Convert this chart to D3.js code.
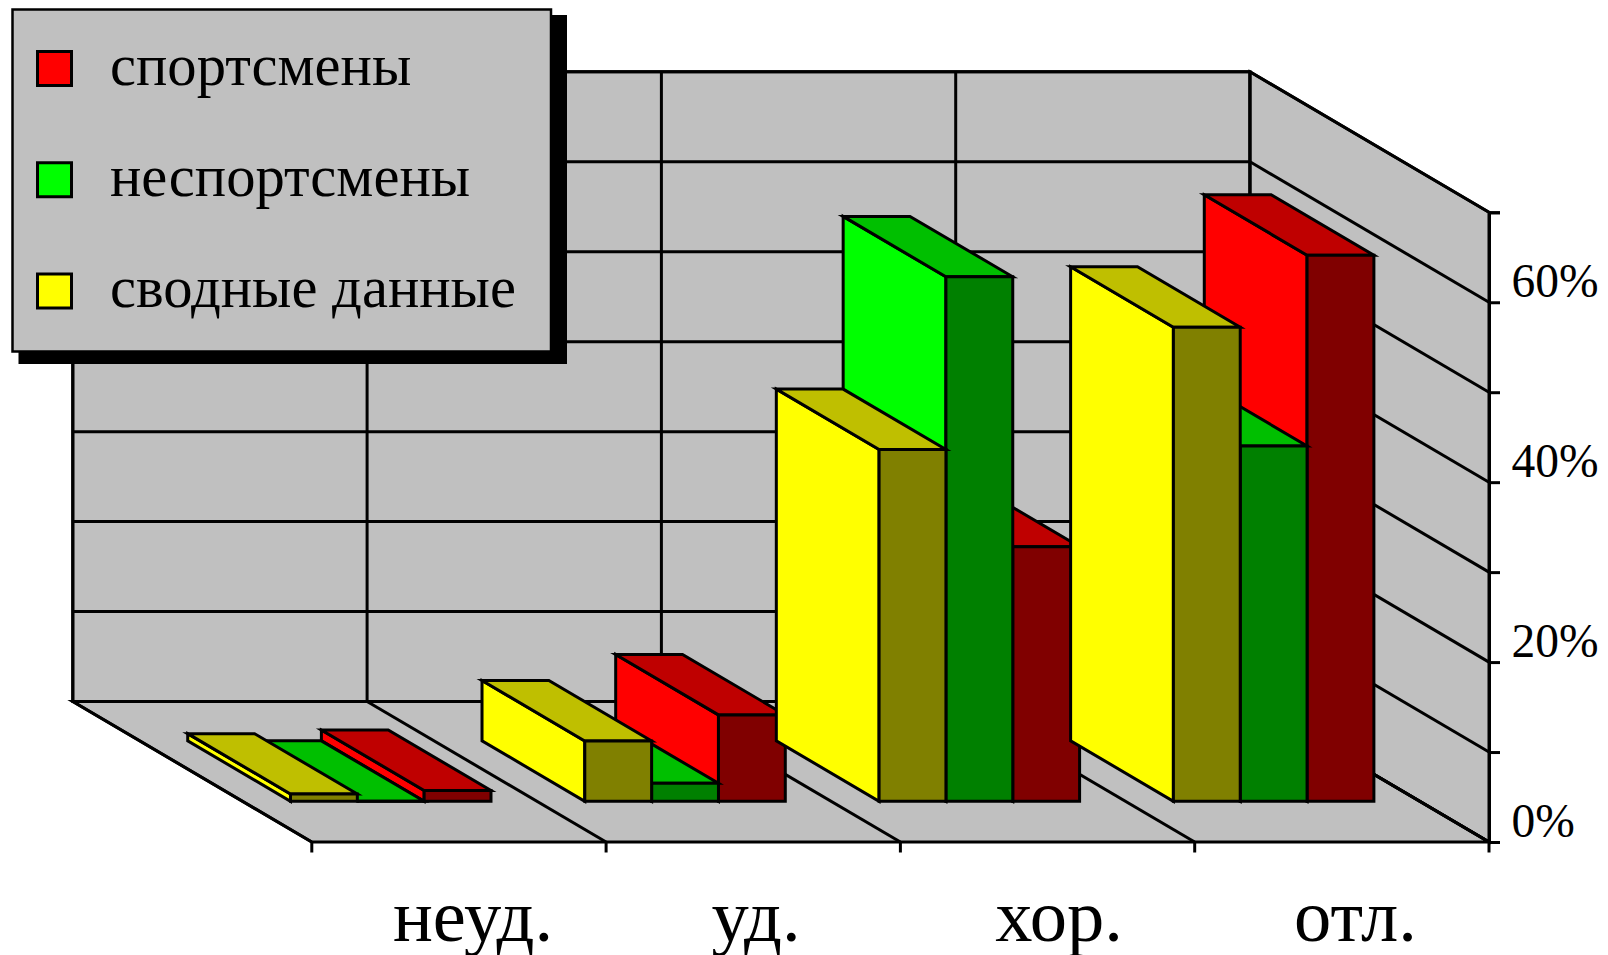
<!DOCTYPE html>
<html><head><meta charset="utf-8">
<script src="https://cdn.jsdelivr.net/npm/d3@7/dist/d3.min.js"></script>
<style>html,body{margin:0;padding:0;background:#fff;overflow:hidden}svg{display:block}text{font-family:"Liberation Serif",serif;fill:#000}</style>
</head><body><svg id="c" width="1608" height="955"></svg>
<script>
const categories = ["неуд.", "уд.", "хор.", "отл."];
const seriesNames = ["сводные данные", "неспортсмены", "спортсмены"];
const legendOrder = ["спортсмены", "неспортсмены", "сводные данные"];
const svodnye = [0.8, 6.7, 39.1, 52.7];
const nesportsmeny = [0, 2.0, 58.3, 39.5];
const sportsmeny = [1.2, 9.6, 28.3, 60.7];
const valueTicks = [0, 10, 20, 30, 40, 50, 60, 70];
const valueTable = [svodnye, nesportsmeny, sportsmeny];
const bright = ["#ffff00", "#00ff00", "#ff0000"];
const topFace = ["#bfbf00", "#00bf00", "#bf0000"];
const frontFace = ["#808000", "#008000", "#800000"];
const wall = "#c0c0c0";

const svg = d3.select("#c");
const LW = 3;
const x = d3.scaleBand().domain(categories).range([311.8, 1489]);
const xs = d3.scaleBand().domain(seriesNames).range([48, 248.5]);
const y = d3.scaleLinear().domain([0, 70]).range([842, 212.3]);
const dx = d3.scaleLinear().domain([0, 1]).range([0, -239]);
const dy = d3.scaleLinear().domain([0, 1]).range([0, -140.5]);
const p = (fx, d, v) => [fx + dx(d), y(v) + dy(d)];
const poly = (pts, fill, g) => (g || svg).append("path")
  .attr("d", d3.line()(pts) + "Z").attr("fill", fill).attr("stroke", "#000")
  .attr("stroke-width", LW).attr("stroke-linejoin", "miter");
const [fx0, fx1] = x.range();
const vMax = 70;

// walls and floor
poly([p(fx0,1,0),p(fx1,1,0),p(fx1,1,vMax),p(fx0,1,vMax)], wall);
poly([p(fx1,1,0),p(fx1,0,0),p(fx1,0,vMax),p(fx1,1,vMax)], wall);
poly([p(fx0,0,0),p(fx1,0,0),p(fx1,1,0),p(fx0,1,0)], wall);
const seg = (a, b) => svg.append("line").attr("x1",a[0]).attr("y1",a[1]).attr("x2",b[0]).attr("y2",b[1])
  .attr("stroke","#000").attr("stroke-width",LW);
valueTicks.forEach(v => { seg(p(fx0,1,v),p(fx1,1,v)); seg(p(fx1,1,v),p(fx1,0,v)); });
const catEdges = categories.map(c => x(c)).concat([fx1]);
catEdges.forEach(e => { seg(p(e,1,0),p(e,1,vMax)); seg(p(e,0,0),p(e,1,0)); });
catEdges.forEach(e => seg([e,y(0)],[e,y(0)+10.5]));

// value axis
const axis = d3.axisRight(y).tickValues(valueTicks).tickSize(11).tickPadding(11.5)
  .tickFormat(v => v % 20 === 0 && v < 70 ? v + "%" : "");
const ag = svg.append("g").attr("transform", `translate(${fx1},0)`).call(axis);
ag.selectAll("path.domain").attr("stroke","#000").attr("stroke-width",LW);
ag.selectAll("line").attr("stroke","#000").attr("stroke-width",LW);
ag.selectAll("text").attr("font-size",47.5).attr("dy",null).attr("y",-6)
  .style("font-family",'"Liberation Serif",serif').style("fill","#000");

// bars: left to right by category, back-most series first
const D0 = 0.29, D1 = 0.72;
categories.forEach((c, ci) => {
  d3.range(seriesNames.length - 1, -1, -1).forEach(si => {
    const v = valueTable[si][ci];
    const a = x(c) + xs(seriesNames[si]), b = a + xs.bandwidth();
    poly([p(a,D0,0),p(a,D0,v),p(a,D1,v),p(a,D1,0)], bright[si]);
    poly([p(a,D0,v),p(b,D0,v),p(b,D1,v),p(a,D1,v)], topFace[si]);
    poly([p(a,D0,0),p(b,D0,0),p(b,D0,v),p(a,D0,v)], frontFace[si]);
  });
});

// category labels
const labelCx = [473, 756, 1059, 1355.5];
svg.selectAll("text.cat").data(categories).join("text").attr("class","cat")
  .attr("x",(d,i)=>labelCx[i]).attr("y",940.5).attr("text-anchor","middle").attr("font-size",74.5).text(d=>d);

// legend
svg.append("rect").attr("x",18.5).attr("y",15).attr("width",548.5).attr("height",349).attr("fill","#000");
svg.append("rect").attr("x",12.5).attr("y",9.5).attr("width",538.5).attr("height",342)
  .attr("fill",wall).attr("stroke","#000").attr("stroke-width",2.5);
const ly = d3.scalePoint().domain(legendOrder).range([68.5, 291]);
legendOrder.forEach(n => {
  const si = seriesNames.indexOf(n);
  svg.append("rect").attr("x",37.5).attr("y",ly(n)-17).attr("width",34).attr("height",34)
    .attr("fill",bright[si]).attr("stroke","#000").attr("stroke-width",3);
  svg.append("text").attr("x",110).attr("y",ly(n)+16).attr("font-size",58.6).text(n);
});
</script></body></html>
